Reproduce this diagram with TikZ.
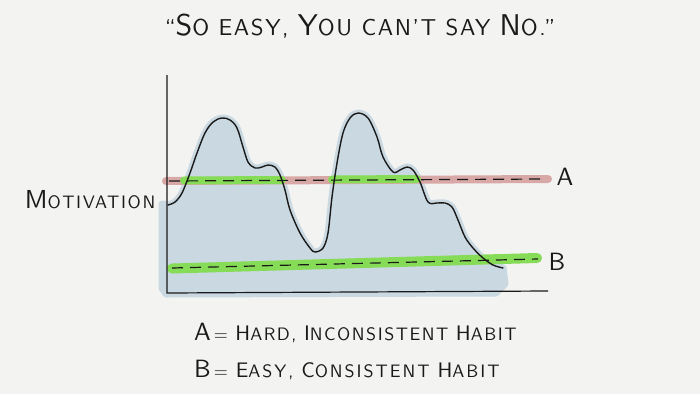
\documentclass[tikz,border=0pt]{standalone}
\usepackage{fontspec}
\newfontfamily\handT{lmsans10-regular.otf}[LetterSpace=7, Ligatures=TeX]
\newfontfamily\handM{lmsans10-regular.otf}[LetterSpace=9]
\newfontfamily\handA{lmsans10-regular.otf}[LetterSpace=8.5]
\newfontfamily\handB{lmsans10-regular.otf}[LetterSpace=11]
\newfontfamily\handL{lmsans10-regular.otf}
\newcommand\Kp[2]{{\fontsize{#1}{#1}\selectfont #2}}
\definecolor{bgc}{HTML}{F3F3F2}
\definecolor{bluefill}{HTML}{C9D8E1}
\definecolor{redband}{HTML}{D8A8A6}
\definecolor{greenband}{HTML}{86DC56}
\definecolor{ink}{HTML}{1A1A1A}
\tikzset{
  band/.style={line width=8pt, line cap=round},
  dashline/.style={ink, line width=1.2pt, dash pattern=on 11pt off 7pt},
  hand/.style={ink, line width=1.4pt, line cap=round, line join=round},
  txt/.style={text=ink, inner sep=0pt},
}
\begin{document}
\begin{tikzpicture}[x=1pt,y=-1pt]
\useasboundingbox (0,0) rectangle (700,394);
\fill[bgc] (0,0) rectangle (700,394);
% blue region under the motivation curve
\path[fill=bluefill, draw=bluefill, line width=7pt, line join=round]
  (162,204) -- plot[smooth, tension=0.55] coordinates {
  (168,205) (175,202) (182,193) (190,173) (197,153) (205,133) (213,122) (222,118)
  (230,120) (237,128) (243,147) (248,162) (255,168) (262,167) (268,165) (275,167)
  (280,175) (285,190) (290,210) (300,233) (310,248) (315,252) (323,248) (328,233)
  (332,197) (337,163) (343,133) (350,118) (358,113) (368,118) (377,137) (383,157)
  (393,172) (400,170) (407,167) (413,170) (420,182) (428,202) (437,203) (445,203)
  (452,207) (458,220) (465,237) (473,248) (483,258) (493,265) (503,268)}
  -- (505,284) -- (496,293) -- (166,294) -- (162,288) -- cycle;
% line A
\draw[band, redband] (166,181) -- (548,179);
\draw[band, greenband] (184,180.5) -- (282,180);
\draw[band, greenband] (332,179.5) -- (417,179);
\draw[dashline] (169,181) -- (545,179);
% line B
\draw[band, greenband, line width=10pt] (172,268.5) -- (537,258);
\draw[dashline] (172,268) -- (538,259);
% curve
\draw[hand] plot[smooth, tension=0.55] coordinates {
  (168,205) (175,202) (182,193) (190,173) (197,153) (205,133) (213,122) (222,118)
  (230,120) (237,128) (243,147) (248,162) (255,168) (262,167) (268,165) (275,167)
  (280,175) (285,190) (290,210) (300,233) (310,248) (315,252) (323,248) (328,233)
  (332,197) (337,163) (343,133) (350,118) (358,113) (368,118) (377,137) (383,157)
  (393,172) (400,170) (407,167) (413,170) (420,182) (428,202) (437,203) (445,203)
  (452,207) (458,220) (465,237) (473,248) (483,258) (493,265) (503,268)};
% axes
\coordinate (top) at (167,75);
\coordinate (origin) at (167,293);
\coordinate (right) at (548,291);
\draw[ink, line width=1.2pt] (top) -- (origin) -- (right);
% labels
\node[txt, anchor=base, font=\handT\fontsize{23}{23}\selectfont] (title) at (360,35)
  {``\Kp{30}{S}O EASY, \Kp{30}{Y}OU CAN'T SAY \Kp{30}{N}O.''};
\node[txt, anchor=base, font=\handM\fontsize{18}{18}\selectfont] (mot) at (90,208)
  {\Kp{26}{M}OTIVATION};
\node[txt, anchor=base, font=\handL\fontsize{25}{25}\selectfont] (la) at (565,185) {A};
\node[txt, anchor=base, font=\handL\fontsize{25}{25}\selectfont] (lb) at (557,270) {B};
\node[txt, anchor=base west, font=\handA\fontsize{18}{18}\selectfont] (da) at (194,340)
  {\Kp{25}{A}\,= \Kp{21}{H}ARD, \Kp{21}{I}NCONSISTENT \Kp{21}{H}ABIT};
\node[txt, anchor=base west, font=\handB\fontsize{18}{18}\selectfont] (db) at (194,377)
  {\Kp{25}{B}\,= \Kp{21}{E}ASY, \Kp{21}{C}ONSISTENT \Kp{21}{H}ABIT};
\end{tikzpicture}
\end{document}
